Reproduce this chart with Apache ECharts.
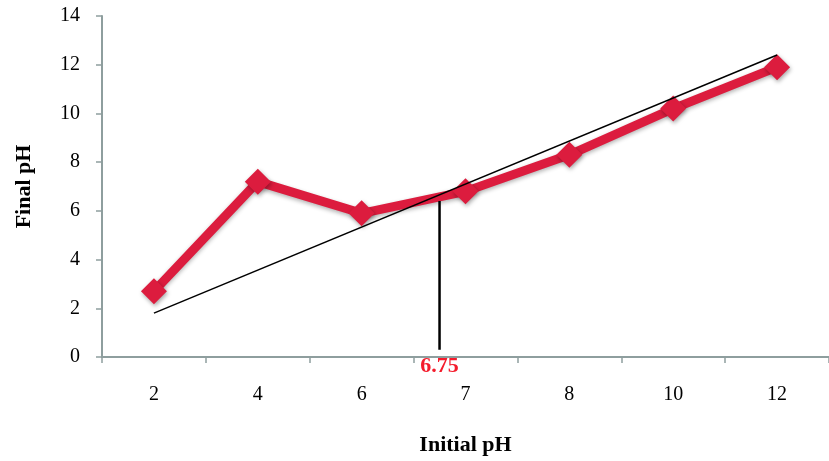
<!DOCTYPE html>
<html>
<head>
<meta charset="utf-8">
<script src="https://cdn.jsdelivr.net/npm/echarts@6/dist/echarts.min.js"></script>
<style>
  html, body { margin: 0; padding: 0; background: #fff; }
  #container { width: 829px; height: 461px; }
</style>
</head>
<body>
<div id="container"></div>
<script>
// data
var initialPH = ['2', '4', '6', '7', '8', '10', '12'];
var finalPH = [2.7, 7.2, 5.9, 6.8, 8.3, 10.2, 11.9];
var refLine = [1.8, null, null, null, null, null, 12.4];   // straight reference line, ends only
var pzc = 6.75;             // point of zero charge
var pzcSpan = [0.3, 6.4];   // vertical marker from / to (final pH)
var yTicks = [0, 14, 2];    // min, max, interval

// place 6.75 between the "6" and "7" categories
function catIndex(v) {
    for (var i = 0; i < initialPH.length - 1; i++) {
        var a = +initialPH[i], b = +initialPH[i + 1];
        if (v >= a && v <= b) return i + (v - a) / (b - a);
    }
    return 0;
}
var pzcIdx = catIndex(pzc);

var dom = document.getElementById('container');
var myChart = echarts.init(dom, null, { renderer: 'canvas' });

var serif = '"Liberation Serif", "DejaVu Serif", serif';
var axisGrey = '#8e9e9e';

var option = {
    animation: false,
    backgroundColor: '#ffffff',
    grid: { left: 102, top: 16, bottom: 102, width: 734, containLabel: false },
    xAxis: [
        {
            type: 'category',
            data: initialPH,
            boundaryGap: true,
            name: 'Initial pH',
            nameLocation: 'middle',
            nameGap: 77,
            nameTextStyle: { fontFamily: serif, fontWeight: 'bold', fontSize: 22, color: '#000' },
            axisLine: { lineStyle: { color: axisGrey, width: 2 } },
            axisTick: { show: true, length: 6, lineStyle: { color: axisGrey, width: 1.5 } },
            axisLabel: { fontFamily: serif, fontSize: 20, color: '#000', margin: 28 },
            splitLine: { show: false }
        },
        {
            type: 'value',
            min: -0.5,
            max: initialPH.length - 0.5,
            show: false
        }
    ],
    yAxis: {
        type: 'value',
        min: yTicks[0],
        max: yTicks[1],
        interval: yTicks[2],
        name: 'Final pH',
        nameLocation: 'middle',
        nameGap: 67,
        nameTextStyle: { fontFamily: serif, fontWeight: 'bold', fontSize: 22, color: '#000' },
        axisLine: { show: true, onZero: false, lineStyle: { color: axisGrey, width: 2 } },
        axisTick: { show: true, length: 6, lineStyle: { color: axisGrey, width: 1.5 } },
        axisLabel: { fontFamily: serif, fontSize: 20, color: '#000', margin: 22 },
        splitLine: { show: false }
    },
    series: [
        {
            name: 'reference',
            type: 'line',
            data: refLine,
            connectNulls: true,
            symbol: 'none',
            lineStyle: { color: '#000', width: 1.5 },
            z: 3
        },
        {
            name: 'Final pH',
            type: 'line',
            data: finalPH,
            symbol: 'diamond',
            symbolSize: 26,
            itemStyle: { color: '#dc1c3e', shadowColor: 'rgba(0,0,0,0.35)', shadowBlur: 4, shadowOffsetX: 1, shadowOffsetY: 2 },
            lineStyle: { color: '#dc1c3e', width: 9, shadowColor: 'rgba(0,0,0,0.3)', shadowBlur: 4, shadowOffsetY: 2 },
            z: 2
        },
        {
            name: 'pzc',
            type: 'line',
            xAxisIndex: 1,
            data: [
                { value: [pzcIdx, pzcSpan[0]], label: { show: true } },
                [pzcIdx, pzcSpan[1]]
            ],
            symbol: 'circle',
            symbolSize: 0,
            showSymbol: true,
            lineStyle: { color: '#000', width: 2.5 },
            label: {
                position: 'bottom',
                distance: 6,
                formatter: String(pzc),
                fontFamily: serif,
                fontWeight: 'bold',
                fontSize: 22,
                color: '#f41c2c'
            },
            z: 4
        }
    ]
};

myChart.setOption(option);
window.addEventListener('resize', myChart.resize);
</script>
</body>
</html>
